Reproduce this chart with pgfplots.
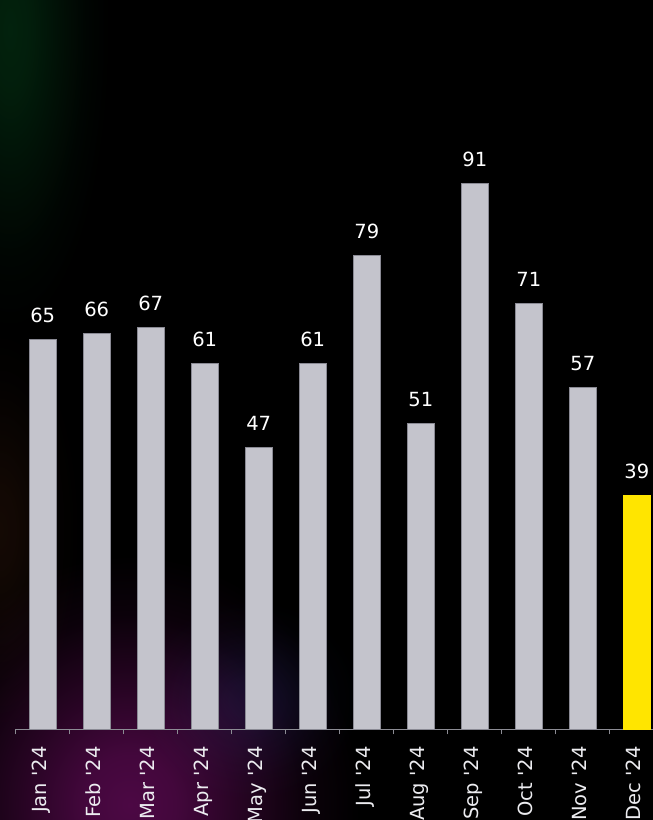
\documentclass[border=0pt]{standalone}
\usepackage{pgfplots}
\pgfplotsset{compat=1.18}
\usepackage{fontspec}
\setmainfont{DejaVu Sans}

\definecolor{bargray}{HTML}{C4C4CC}
\definecolor{baredge}{HTML}{8A8A94}
\definecolor{hilite}{HTML}{FFE500}
\definecolor{axisgray}{HTML}{8C8C94}
\definecolor{labelgray}{HTML}{ECECF0}
\definecolor{glowgreen}{HTML}{02220D}
\definecolor{glowpurple}{HTML}{4C0844}
\definecolor{glowbrown}{HTML}{140904}
\definecolor{glownavy}{HTML}{080C1E}

% soft glows in the backdrop: each fades to black at the edge of its shape
\newcommand{\glowshading}[2]{%
  \pgfdeclareradialshading{#1}{\pgfpoint{0bp}{0bp}}{%
    color(0bp)=(#2); color(5bp)=(#2!88!black);
    color(12bp)=(#2!50!black); color(19bp)=(#2!15!black);
    color(25bp)=(black); color(50bp)=(black)}}
\glowshading{greenglow}{glowgreen}
\glowshading{purpleglow}{glowpurple}
\glowshading{brownglow}{glowbrown}
\glowshading{navyglow}{glownavy}

\newcommand{\mon}[1]{#1 \textquotesingle 24}

\begin{document}
\begin{tikzpicture}
\useasboundingbox (0,0) rectangle (653pt,820pt);
\clip (0,0) rectangle (653pt,820pt);
\fill[black] (0,0) rectangle (653pt,820pt);
\begin{scope}[blend mode=screen]
\shade[shading=greenglow] (10pt,790pt) ellipse [x radius=100pt, y radius=300pt];
\shade[shading=brownglow] (0pt,290pt) ellipse [x radius=80pt, y radius=200pt];
\shade[shading=navyglow] (250pt,120pt) ellipse [x radius=110pt, y radius=100pt];
\shade[shading=purpleglow] (130pt,15pt) ellipse [x radius=230pt, y radius=250pt];
\end{scope}

\begin{axis}[
  at={(15.7pt,90.7pt)}, anchor=south west,
  scale only axis, width=637.3pt, height=729.3pt,
  xmin=-0.5, xmax=11.3, ymin=0, ymax=121.55,
  axis x line*=bottom, axis y line=none,
  x axis line style={axisgray, line width=1.3pt},
  clip=false,
  xtick={0,...,11},
  xticklabels={\mon{Jan},\mon{Feb},\mon{Mar},\mon{Apr},\mon{May},\mon{Jun},
               \mon{Jul},\mon{Aug},\mon{Sep},\mon{Oct},\mon{Nov},\mon{Dec}},
  major tick length=0pt,
  minor xtick={-0.5,0.5,...,11.5},
  minor tick length=5pt,
  tick align=outside,
  minor tick style={axisgray, line width=1.2pt},
  xticklabel style={yshift=-13.5pt, rotate=90, anchor=east,
    font=\fontsize{19.5}{20}\selectfont, text=labelgray,
    text height=0.73em, text depth=0pt},
  ybar, bar width=27pt, bar shift=0pt,
  nodes near coords,
  nodes near coords style={font=\fontsize{19.5}{20}\selectfont, text=white, yshift=13pt},
  /pgf/number format/assume math mode=true,
]
\addplot[bar shift=0pt, fill=bargray, draw=baredge, line width=0.8pt]
  coordinates {(0,65) (1,66) (2,67) (3,61) (4,47) (5,61)
               (6,79) (7,51) (8,91) (9,71) (10,57)};
\addplot[bar shift=0pt, fill=hilite, draw=hilite, line width=0.8pt]
  coordinates {(11,39)};
\end{axis}
\end{tikzpicture}
\end{document}
